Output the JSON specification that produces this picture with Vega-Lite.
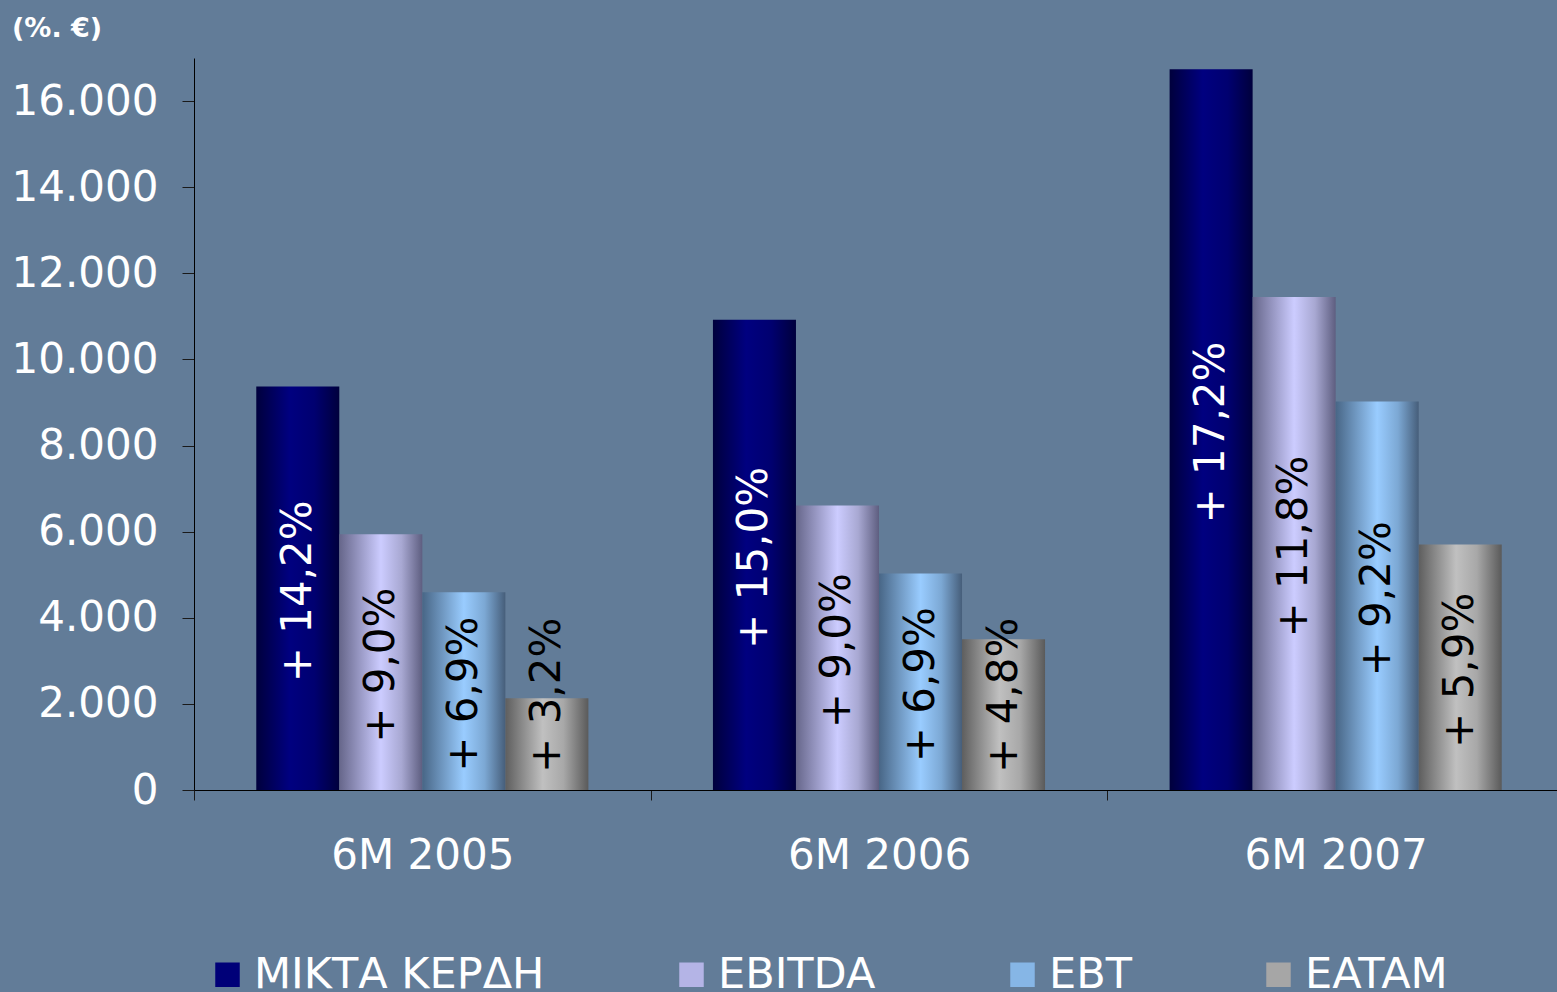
{
  "$schema": "https://vega.github.io/schema/vega-lite/v6.json",
  "autosize": {"type": "none"},
  "padding": {"left": 194, "top": 58, "right": 0, "bottom": 202},
  "width": 1363,
  "height": 732,
  "background": "#627C98",
  "config": {
    "font": "DejaVu Sans",
    "view": {"stroke": null}
  },
  "title": {
    "text": "(%. €)",
    "anchor": "start",
    "frame": "group",
    "dx": -182,
    "offset": 15,
    "fontSize": 27,
    "fontWeight": "bold",
    "color": "white",
    "font": "DejaVu Sans"
  },
  "data": {
    "values": [
      {"period": "6M 2005", "series": "ΜΙΚΤΑ ΚΕΡΔΗ", "value": 9370, "label": "+ 14,2%"},
      {"period": "6M 2005", "series": "EBITDA", "value": 5940, "label": "+ 9,0%"},
      {"period": "6M 2005", "series": "EBT", "value": 4590, "label": "+ 6,9%"},
      {"period": "6M 2005", "series": "EATAM", "value": 2130, "label": "+ 3,2%"},
      {"period": "6M 2006", "series": "ΜΙΚΤΑ ΚΕΡΔΗ", "value": 10920, "label": "+ 15,0%"},
      {"period": "6M 2006", "series": "EBITDA", "value": 6610, "label": "+ 9,0%"},
      {"period": "6M 2006", "series": "EBT", "value": 5030, "label": "+ 6,9%"},
      {"period": "6M 2006", "series": "EATAM", "value": 3500, "label": "+ 4,8%"},
      {"period": "6M 2007", "series": "ΜΙΚΤΑ ΚΕΡΔΗ", "value": 16740, "label": "+ 17,2%"},
      {"period": "6M 2007", "series": "EBITDA", "value": 11450, "label": "+ 11,8%"},
      {"period": "6M 2007", "series": "EBT", "value": 9020, "label": "+ 9,2%"},
      {"period": "6M 2007", "series": "EATAM", "value": 5700, "label": "+ 5,9%"}
    ]
  },
  "encoding": {
    "x": {
      "field": "period",
      "type": "nominal",
      "sort": null,
      "scale": {"domain": ["6M 2005", "6M 2006", "6M 2007"], "paddingInner": 0, "paddingOuter": 0, "range": [0, 1370]},
      "axis": {
        "title": null,
        "labelAngle": 0,
        "labelFontSize": 42,
        "labelColor": "white",
        "labelPadding": 35,
        "labelLimit": 600,
        "tickBand": "extent",
        "tickSize": 10,
        "tickColor": "#1a1a1a",
        "domainColor": "#000000",
        "grid": false
      }
    },
    "xOffset": {
      "field": "series",
      "type": "nominal",
      "sort": null,
      "scale": {"domain": ["ΜΙΚΤΑ ΚΕΡΔΗ", "EBITDA", "EBT", "EATAM"], "paddingInner": 0, "paddingOuter": 0.75}
    }
  },
  "layer": [
    {
      "encoding": {
        "y": {
          "field": "value",
          "type": "quantitative",
          "scale": {"domain": [0, 17000], "nice": false},
          "axis": {
            "title": null,
            "values": [0, 2000, 4000, 6000, 8000, 10000, 12000, 14000, 16000],
            "labelExpr": "replace(format(datum.value, ','), ',', '.')",
            "labelFontSize": 42,
            "labelColor": "white",
            "labelPadding": 24,
            "tickSize": 12,
            "tickColor": "#1a1a1a",
            "domainColor": "#000000",
            "grid": false
          }
        },
        "color": {
          "field": "series",
          "type": "nominal",
          "sort": null,
          "scale": {"domain": ["ΜΙΚΤΑ ΚΕΡΔΗ", "EBITDA", "EBT", "EATAM"], "range": ["#000078", "#B4B4E6", "#86B6E6", "#A6A6A6"]},
          "legend": {
            "title": null,
            "orient": "none",
            "legendX": 12,
            "legendY": 895,
            "direction": "horizontal",
            "symbolType": "square",
            "symbolSize": 600,
            "symbolStrokeWidth": 0,
            "symbolOpacity": 1,
            "labelFontSize": 43,
            "labelColor": "white",
            "labelOffset": 5,
            "labelLimit": 0,
            "columnPadding": 125,
            "padding": 0
          }
        }
      },
      "layer": [
        {
          "transform": [{"filter": "datum.series === 'ΜΙΚΤΑ ΚΕΡΔΗ'"}],
          "mark": {"type": "bar", "fill": {"gradient": "linear", "x1": 0, "x2": 1, "y1": 0, "y2": 0, "stops": [{"offset": 0, "color": "#00003C"}, {"offset": 0.4, "color": "#000080"}, {"offset": 0.7, "color": "#000070"}, {"offset": 1, "color": "#00003C"}]}}
        },
        {
          "transform": [{"filter": "datum.series === 'EBITDA'"}],
          "mark": {"type": "bar", "fill": {"gradient": "linear", "x1": 0, "x2": 1, "y1": 0, "y2": 0, "stops": [{"offset": 0, "color": "#66668A"}, {"offset": 0.5, "color": "#CCCCFF"}, {"offset": 0.75, "color": "#A8A8D2"}, {"offset": 1, "color": "#5E5E80"}]}}
        },
        {
          "transform": [{"filter": "datum.series === 'EBT'"}],
          "mark": {"type": "bar", "fill": {"gradient": "linear", "x1": 0, "x2": 1, "y1": 0, "y2": 0, "stops": [{"offset": 0, "color": "#486686"}, {"offset": 0.5, "color": "#99CCFF"}, {"offset": 0.75, "color": "#7CA8D4"}, {"offset": 1, "color": "#465E7A"}]}}
        },
        {
          "transform": [{"filter": "datum.series === 'EATAM'"}],
          "mark": {"type": "bar", "fill": {"gradient": "linear", "x1": 0, "x2": 1, "y1": 0, "y2": 0, "stops": [{"offset": 0, "color": "#5E5E5E"}, {"offset": 0.45, "color": "#C0C0C0"}, {"offset": 0.7, "color": "#A8A8A8"}, {"offset": 1, "color": "#5A5A5A"}]}}
        }
      ]
    },
    {
      "encoding": {
        "y": {
          "field": "value",
          "type": "quantitative",
          "scale": {"domain": [0, 34000], "nice": false},
          "axis": null
        },
        "text": {"field": "label"},
        "color": {"condition": {"test": "datum.series === 'ΜΙΚΤΑ ΚΕΡΔΗ'", "value": "white"}, "value": "black"}
      },
      "layer": [
        {
          "transform": [{"filter": "datum.value >= 4400"}],
          "mark": {"type": "text", "angle": 270, "align": "center", "baseline": "middle", "fontSize": 42, "dx": -3}
        },
        {
          "transform": [{"filter": "datum.value < 4400"}],
          "mark": {"type": "text", "angle": 270, "align": "center", "baseline": "middle", "fontSize": 42},
          "encoding": {
            "y": {"datum": 4400, "type": "quantitative"}
          }
        }
      ]
    }
  ],
  "resolve": {"scale": {"y": "independent"}}
}
